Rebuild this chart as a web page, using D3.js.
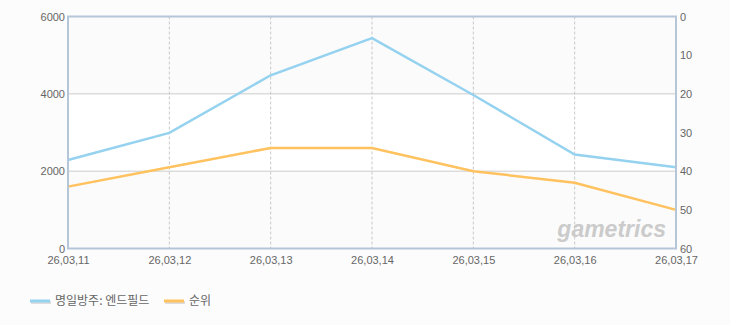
<!DOCTYPE html>
<html>
<head>
<meta charset="utf-8">
<script src="https://cdn.jsdelivr.net/npm/d3@7"></script>
<style>
  body { margin: 0; background: #fcfcfc; }
  text { font-family: "Liberation Sans", "Noto Sans CJK KR", sans-serif; }
</style>
</head>
<body>
<div id="chart"></div>
<script>
// data
var dates = ["26,03,11", "26,03,12", "26,03,13", "26,03,14", "26,03,15", "26,03,16", "26,03,17"];
var usage = [2290, 2990, 4480, 5440, 3970, 2430, 2100];   // 명일방주: 엔드필드 (left axis)
var rank = [44, 39, 34, 34, 40, 43, 50];                  // 순위 (right axis)
var leftTicks = [0, 2000, 4000, 6000];
var rightTicks = [0, 10, 20, 30, 40, 50, 60];
var seriesNames = ["명일방주: 엔드필드", "순위"];
var colors = ["#95d2f0", "#ffc25e"];

var W = 730, H = 325;
var margin = {top: 16.5, right: 54, bottom: 76.5, left: 68};
var width = W - margin.left - margin.right,
    height = H - margin.top - margin.bottom;

var svg = d3.select("#chart").append("svg")
    .attr("width", W)
    .attr("height", H)
    .style("background", "#fcfcfc");

var g = svg.append("g")
    .attr("transform", "translate(" + margin.left + "," + margin.top + ")");

var x = d3.scalePoint().domain(dates).range([0, width]);
var yL = d3.scaleLinear().domain([0, 6000]).range([height, 0]);
var yR = d3.scaleLinear().domain([0, 60]).range([0, height]);

// alternating bands
var bands = d3.pairs(leftTicks);
g.selectAll("rect.band")
    .data(bands)
  .enter().append("rect")
    .attr("class", "band")
    .attr("x", 0)
    .attr("width", width)
    .attr("y", function(d) { return yL(d[1]); })
    .attr("height", function(d) { return yL(d[0]) - yL(d[1]); })
    .attr("fill", function(d, i) { return i % 2 ? "#ffffff" : "#fbfbfb"; });

// horizontal grid
g.selectAll("line.hgrid")
    .data(leftTicks.slice(1, -1))
  .enter().append("line")
    .attr("x1", 0).attr("x2", width)
    .attr("y1", function(d) { return yL(d); })
    .attr("y2", function(d) { return yL(d); })
    .attr("stroke", "#cccccc")
    .attr("stroke-width", 1);

// vertical dashed grid
g.selectAll("line.vgrid")
    .data(dates.slice(1, -1))
  .enter().append("line")
    .attr("x1", function(d) { return x(d); })
    .attr("x2", function(d) { return x(d); })
    .attr("y1", 0).attr("y2", height)
    .attr("stroke", "#c8c8c8")
    .attr("stroke-dasharray", "3,2");

// watermark
g.append("text")
    .attr("x", width - 10)
    .attr("y", height - 12)
    .attr("text-anchor", "end")
    .attr("font-size", 23)
    .attr("font-weight", "bold")
    .attr("font-style", "italic")
    .attr("fill", "#cbcbcb")
    .text("gametrics");

// lines
var lineL = d3.line()
    .x(function(d, i) { return x(dates[i]); })
    .y(function(d) { return yL(d); });
var lineR = d3.line()
    .x(function(d, i) { return x(dates[i]); })
    .y(function(d) { return yR(d); });

g.append("path").datum(rank)
    .attr("fill", "none")
    .attr("stroke", colors[1])
    .attr("stroke-width", 2.5)
    .attr("d", lineR);

g.append("path").datum(usage)
    .attr("fill", "none")
    .attr("stroke", colors[0])
    .attr("stroke-width", 2.5)
    .attr("d", lineL);

// frame
g.append("rect")
    .attr("x", 0).attr("y", 0)
    .attr("width", width).attr("height", height)
    .attr("fill", "none")
    .attr("stroke", "#b4c6d8")
    .attr("stroke-width", 2);

// axes
var axL = g.append("g")
    .call(d3.axisLeft(yL).tickValues(leftTicks).tickFormat(d3.format("d")).tickSize(0).tickPadding(3));
var axR = g.append("g")
    .attr("transform", "translate(" + width + ",0)")
    .call(d3.axisRight(yR).tickValues(rightTicks).tickSize(0).tickPadding(4));
var axB = g.append("g")
    .attr("transform", "translate(0," + height + ")")
    .call(d3.axisBottom(x).tickSize(0).tickPadding(8));

[axL, axR, axB].forEach(function(a) {
  a.select(".domain").remove();
  a.selectAll("text").attr("fill", "#666").attr("font-size", 11)
    .style("font-family", "\"Liberation Sans\", sans-serif");
});

// legend
var legend = svg.append("g").attr("transform", "translate(30,301)");
var lx = [0, 134];
seriesNames.forEach(function(name, i) {
  var item = legend.append("g").attr("transform", "translate(" + lx[i] + ",0)");
  item.append("line")
      .attr("x1", 1).attr("x2", 21).attr("y1", 1.5).attr("y2", 1.5)
      .attr("stroke", "#dddddd").attr("stroke-width", 3);
  item.append("line")
      .attr("x1", 0).attr("x2", 20).attr("y1", 0).attr("y2", 0)
      .attr("stroke", colors[i]).attr("stroke-width", 3);
  item.append("text")
      .attr("x", 25).attr("y", 4)
      .attr("font-size", 12)
      .attr("fill", "#666")
      .style("font-family", "\"Noto Sans CJK KR\", sans-serif")
      .text(name);
});
</script>
</body>
</html>
